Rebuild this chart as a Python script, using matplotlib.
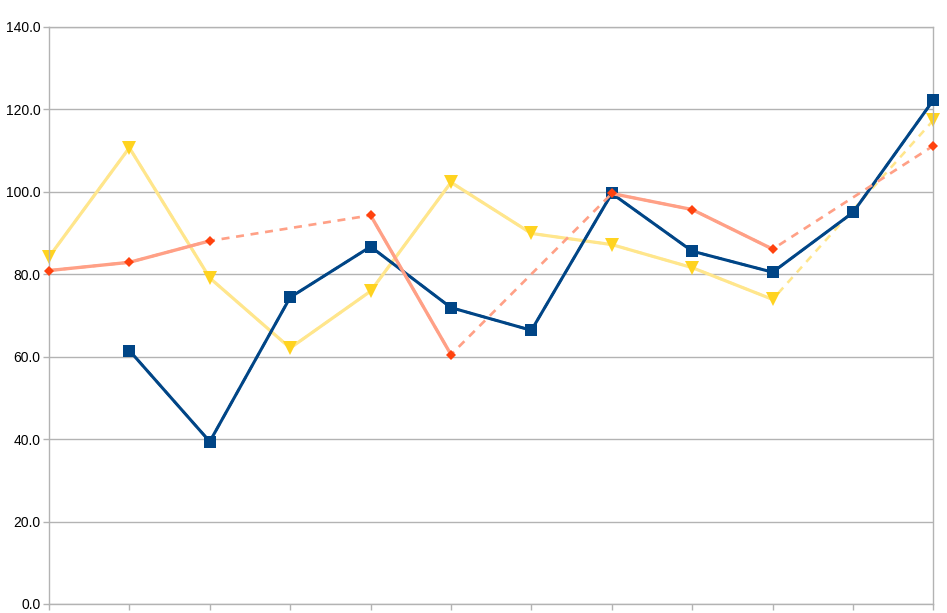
import numpy as np
import matplotlib
matplotlib.use("Agg")
import matplotlib.pyplot as plt

# category positions (no labels on the x axis)
categories = list(range(12))

nan = np.nan
blue_vals = [nan, 61.5, 39.4, 74.4, 86.7, 71.9, 66.4, 99.6, 85.6, 80.5, 95.0, 122.3]
orange_vals = [80.9, 82.9, 88.1, nan, 94.3, 60.5, nan, 99.6, 95.7, 86.1, nan, 111.2]
yellow_vals = [84.2, 110.7, 79.1, 62.1, 75.9, 102.3, 89.9, 87.2, 81.6, 73.9, nan, 117.4]

yticks = [0, 20, 40, 60, 80, 100, 120, 140]

plt.rcParams['font.family'] = ['Liberation Sans', 'DejaVu Sans']

fig = plt.figure(figsize=(9.47, 6.13), dpi=100)
ax = fig.add_axes([0.0517, 0.0147, 0.9340, 0.9413])

grid_col = '#b3b3b3'

def draw(vals, line_col, mark_col, marker, ms, lw, z):
    x = np.array(categories, dtype=float)
    y = np.array(vals, dtype=float)
    ok = ~np.isnan(y)
    # dashed line bridging the gaps
    ax.plot(x[ok], y[ok], color=line_col, lw=lw * 0.8, ls=(0, (3, 2.5)),
            zorder=z, solid_capstyle='butt', clip_on=False)
    # solid line where values are consecutive
    ax.plot(x, y, color=line_col, lw=lw, zorder=z + 0.1, clip_on=False)
    ax.plot(x, y, ls='none', marker=marker, ms=ms, color=mark_col,
            markeredgewidth=0, zorder=z + 0.2, clip_on=False)

draw(blue_vals, '#004586', '#004586', 's', 8.5, 2.2, 3)
draw(orange_vals, '#ffa086', '#ff420e', 'D', 5.5, 2.4, 4)
draw(yellow_vals, '#ffe68c', '#ffd320', 'v', 9.5, 2.3, 2)

ax.set_xlim(0, 11)
ax.set_ylim(0, 140)
ax.set_yticks(yticks)
ax.set_yticklabels([f"{v:.1f}" for v in yticks])
ax.set_xticks(categories)
ax.set_xticklabels([])
ax.grid(axis='y', color=grid_col, lw=1)
ax.set_axisbelow(True)
for s in ax.spines.values():
    s.set_color(grid_col)
    s.set_linewidth(1)
ax.tick_params(axis='both', direction='out', length=4, color=grid_col, width=1)
ax.tick_params(axis='y', labelsize=10, pad=2, labelcolor='black')

fig.savefig('out.png', dpi=100)
